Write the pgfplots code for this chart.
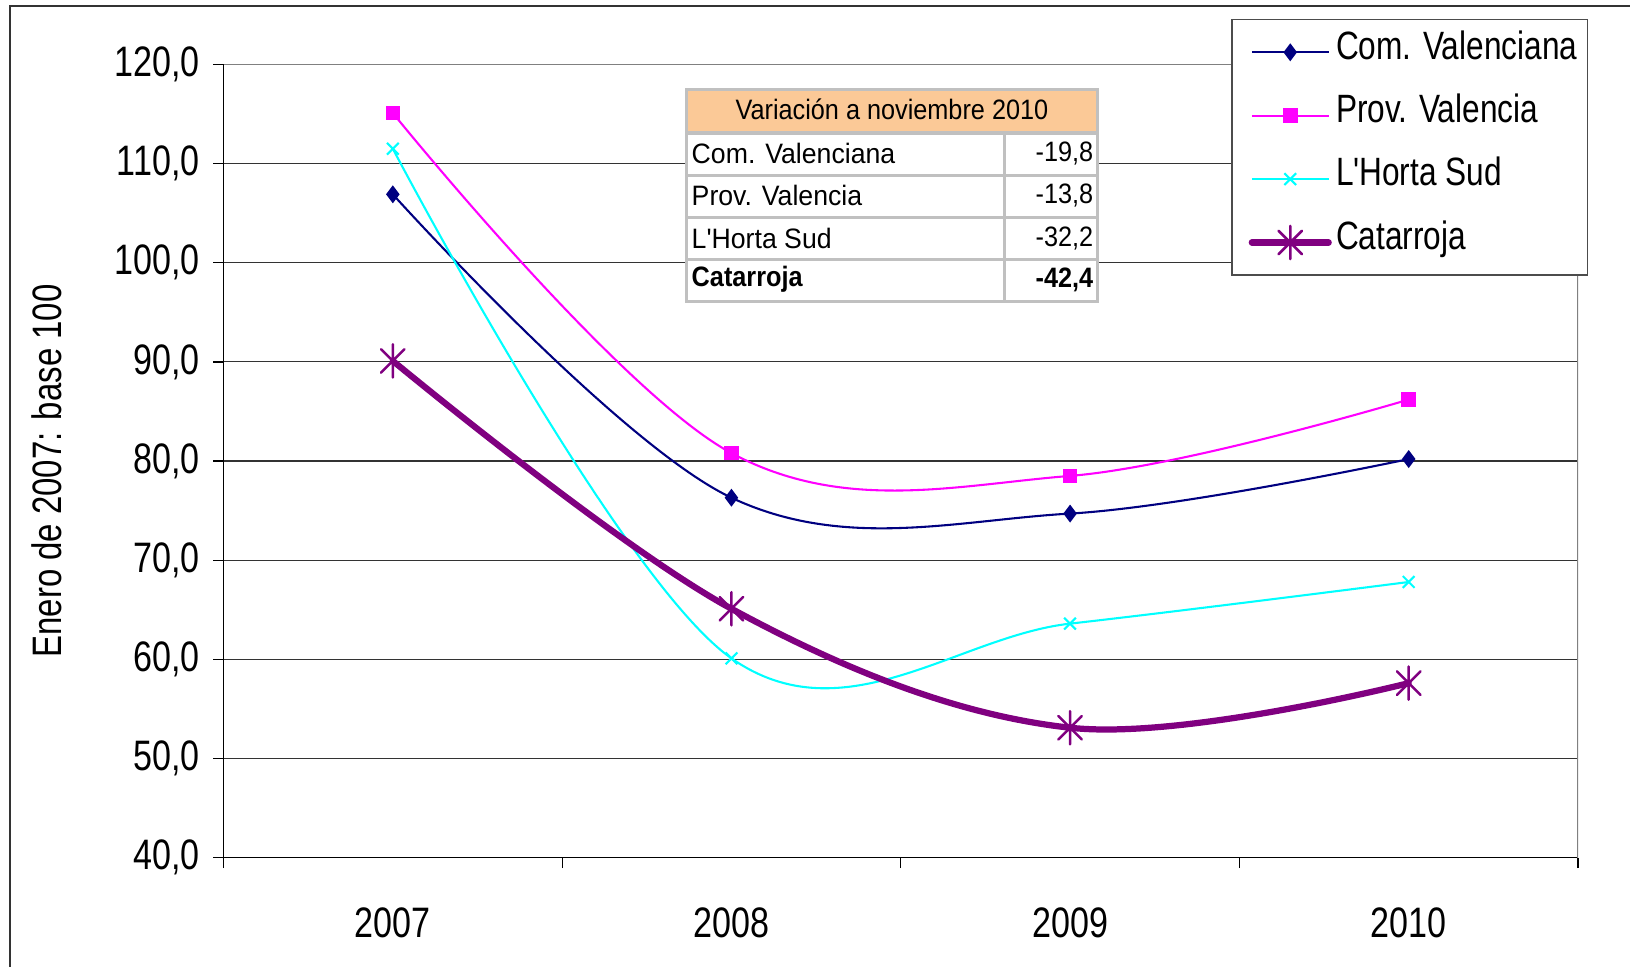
\documentclass[border=0pt]{standalone}
\usepackage{fontspec}
\setmainfont{Liberation Sans}[FakeStretch=0.8]
\newfontfamily\legfont{Liberation Sans}[FakeStretch=0.8]
\newfontfamily\tabfont{Liberation Sans}[FakeStretch=0.9]
\newfontfamily\tabfontw{Liberation Sans}[FakeStretch=0.95]
\usepackage{pgfplots}
\pgfplotsset{compat=1.18}
\definecolor{cv}{RGB}{0,0,128}
\definecolor{pv}{RGB}{255,0,255}
\definecolor{hs}{RGB}{0,255,255}
\definecolor{ca}{RGB}{128,0,128}
\definecolor{hdr}{RGB}{251,201,151}
\definecolor{tb}{RGB}{192,192,192}
\pgfdeclareplotmark{xstar}{%
 \pgfpathmoveto{\pgfqpoint{0pt}{\pgfplotmarksize}}\pgfpathlineto{\pgfqpoint{0pt}{-\pgfplotmarksize}}%
 \pgfpathmoveto{\pgfqpoint{-0.7071\pgfplotmarksize}{-0.7071\pgfplotmarksize}}\pgfpathlineto{\pgfqpoint{0.7071\pgfplotmarksize}{0.7071\pgfplotmarksize}}%
 \pgfpathmoveto{\pgfqpoint{-0.7071\pgfplotmarksize}{0.7071\pgfplotmarksize}}\pgfpathlineto{\pgfqpoint{0.7071\pgfplotmarksize}{-0.7071\pgfplotmarksize}}%
 \pgfusepathqstroke}
\begin{document}
\begin{tikzpicture}
\path[use as bounding box] (0,0) rectangle (784pt,465pt);
\begin{axis}[at={(107.5pt,52.5pt)}, anchor=south west, scale only axis,
 width=651.5pt, height=381.5pt,
 xmin=-0.5, xmax=3.5, ymin=40, ymax=120,
 ytick={40,50,...,120},
 xtick={-0.5,0.5,1.5,2.5,3.5}, xticklabels={},
 extra x ticks={0,1,2,3}, extra x tick labels={2007,2008,2009,2010},
 extra x tick style={major tick length=0pt, xticklabel style={yshift=-20.5pt}},
 tick align=outside, major tick length=5pt,
 axis x line*=bottom, axis y line*=left,
 axis line style={black, line width=0.8pt},
 tick style={black, line width=0.6pt},
 ymajorgrids, grid style={black!80, line width=0.55pt},
 ticklabel style={font=\fontsize{20.5}{24}\selectfont},
 yticklabel style={xshift=-3pt, /pgf/number format/.cd, fixed, fixed zerofill, precision=1, use comma, assume math mode=true},
 ylabel={Enero de 2007: base 100},
 ylabel style={font=\fontsize{19.8}{23}\selectfont, at={(axis description cs:-0.1305,0.4875)}, anchor=center},
 legend style={at={(axis description cs:1.0077,1.0577)}, anchor=north east, draw=black!70, line width=0.8pt, fill=white,
   font=\legfont\fontsize{19}{22}\selectfont, inner sep=3pt, row sep=5pt,
   nodes={inner sep=2pt, text height=14pt, text depth=7.5pt}},
 legend cell align=left,
 legend image code/.code={\path (-5pt,0pt); \draw[mark repeat=2,mark phase=2,#1] plot coordinates {(0pt,0pt)(18.5pt,0pt)(37pt,0pt)};},
]
\addplot[cv, line width=1pt, smooth, tension=0.6, mark=diamond*, mark size=3.5pt, mark options={solid, fill=cv}]
 coordinates {(0,106.9)(1,76.3)(2,74.7)(3,80.2)};
\addlegendentry{Com. Valenciana}
\addplot[pv, line width=1pt, smooth, tension=0.6, mark=square*, mark size=3pt, mark options={solid, fill=pv}]
 coordinates {(0,115.1)(1,80.8)(2,78.5)(3,86.2)};
\addlegendentry{Prov. Valencia}
\addplot[hs, line width=1pt, smooth, tension=0.6, mark=x, mark size=4pt, mark options={solid, line width=1pt}]
 coordinates {(0,111.5)(1,60.1)(2,63.6)(3,67.8)};
\addlegendentry{L'Horta Sud}
\addplot[ca, line width=3pt, line cap=round, line join=round, smooth, tension=0.6, mark=xstar, mark size=8pt, mark options={solid, line width=1.2pt}]
 coordinates {(0,90.1)(1,65.1)(2,53.1)(3,57.6)};
\addlegendentry{Catarroja}
\draw[gray, line width=1pt] (rel axis cs:0,1) -- (rel axis cs:1,1) -- (rel axis cs:1,0);
\end{axis}
\begin{scope}[x=0.5pt, y=-0.5pt, shift={(0pt,465pt)}]
\fill[hdr] (660,86) rectangle (1056,128);
\fill[white] (660,128) rectangle (1056,290);
\foreach \yy in {128,169,209,250} \draw[tb, line width=1.5pt] (660,\yy) -- (1056,\yy);
\draw[tb, line width=1.5pt] (966,128) -- (966,290);
\draw[tb, line width=1.5pt] (660,86) rectangle (1056,290);
\begin{scope}[every node/.style={font=\tabfont\fontsize{13.5}{16}\selectfont, inner sep=0pt}]
\node at (858,105) {Variación a noviembre 2010};
\node[anchor=west] at (665,148) {\tabfontw Com. Valenciana};
\node[anchor=west] at (665,188) {\tabfontw Prov. Valencia};
\node[anchor=west] at (665,229) {\tabfontw L'Horta Sud};
\node[anchor=west] at (665,269) {\bfseries Catarroja};
\node[anchor=east] at (1052,148) {-19,8};
\node[anchor=east] at (1052,188) {-13,8};
\node[anchor=east] at (1052,229) {-32,2};
\node[anchor=east] at (1052,269) {\bfseries -42,4};
\end{scope}
\draw[black!80, line width=1pt] (9.5,935) -- (9.5,5.5) -- (1575,5.5);
\end{scope}
\end{tikzpicture}
\end{document}
